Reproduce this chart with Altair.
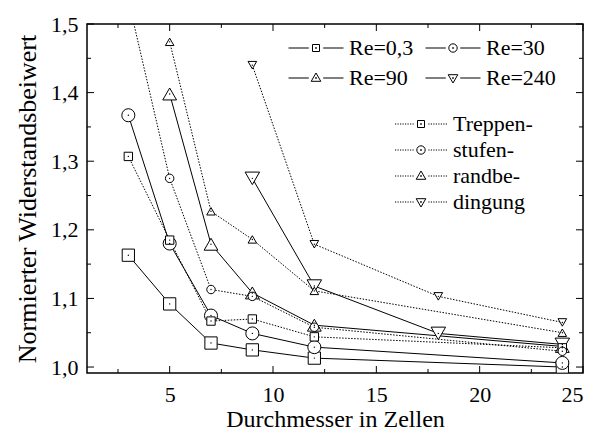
import altair as alt
import pandas as pd
import numpy as np

# ---------------- data ----------------
x_a = [3, 5, 7, 9, 12, 24]
x_b = [5, 7, 9, 12, 24]
x_c = [9, 12, 18, 24]

solid_re03 = [1.163, 1.092, 1.035, 1.025, 1.013, 1.000]
solid_re30 = [1.367, 1.180, 1.075, 1.049, 1.029, 1.006]
solid_re90 = [1.398, 1.179, 1.108, 1.061, 1.030]
solid_re240 = [1.275, 1.118, 1.049, 1.033]

dot_re03 = [1.307, 1.185, 1.067, 1.070, 1.044, 1.028]
dot_re30 = [1.535, 1.275, 1.113, 1.103, 1.058, 1.023]
dot_re90 = [1.474, 1.227, 1.186, 1.111, 1.050]
dot_re240 = [1.440, 1.179, 1.103, 1.065]

series_names = ["Re=0,3", "Re=30", "Re=90", "Re=240"]
dotted_labels = ["Treppen-", "stufen-", "randbe-", "dingung"]

x_ticks_major = [5, 10, 15, 20, 25]
x_ticks_minor = [2.5, 7.5, 12.5, 17.5, 22.5]
y_ticks_major = [1.0, 1.1, 1.2, 1.3, 1.4, 1.5]
y_ticks_minor = [1.05, 1.15, 1.25, 1.35, 1.45]

solid_sets = [(x_a, solid_re03), (x_a, solid_re30), (x_b, solid_re90), (x_c, solid_re240)]
dotted_sets = [(x_a, dot_re03), (x_a, dot_re30), (x_b, dot_re90), (x_c, dot_re240)]

rows = []
for name, lab, (xs, ys) in zip(series_names, dotted_labels, solid_sets):
    for xv, yv in zip(xs, ys):
        rows.append({"x": xv, "y": yv, "series": name, "kind": "solid", "lab": lab})
for name, lab, (xs, ys) in zip(series_names, dotted_labels, dotted_sets):
    for xv, yv in zip(xs, ys):
        rows.append({"x": xv, "y": yv, "series": name, "kind": "dotted", "lab": lab})
df = pd.DataFrame(rows)

# ---------------- layout ----------------
W, H = 496, 349
FONT = "'Liberation Serif', 'Times New Roman', serif"

xs_scale = alt.Scale(domain=[1, 25], nice=False, zero=False)
ys_scale = alt.Scale(domain=[0.9913, 1.5], nice=False, zero=False)

X = alt.X("x:Q", scale=xs_scale,
          axis=alt.Axis(values=x_ticks_major, format="d", title="Durchmesser in Zellen",
                        labelPadding=11, titlePadding=2, titleFontSize=24))
Y = alt.Y("y:Q", scale=ys_scale,
          axis=alt.Axis(values=y_ticks_major, title="Normierter Widerstandsbeiwert",
                        labelExpr="replace(format(datum.value, '.1f'), '.', ',')",
                        labelPadding=9, titlePadding=10, titleFontSize=26))

base = alt.Chart(df)

solid_lines = base.transform_filter("datum.kind == 'solid'").mark_line(
    color="black", strokeWidth=1, clip=True).encode(x=X, y=Y, detail="series:N")
dotted_lines = base.transform_filter("datum.kind == 'dotted'").mark_line(
    color="black", strokeWidth=1, strokeDash=[1.5, 1.5], clip=True).encode(x=X, y=Y, detail="series:N")

std_shapes = ["square", "circle", "triangle-up", "triangle-down"]

big_markers = base.transform_filter("datum.kind == 'solid'").mark_point(
    fill="white", stroke="black", strokeWidth=1, opacity=1, filled=False, clip=True).encode(
    x=X, y=Y,
    shape=alt.Shape("series:N", scale=alt.Scale(domain=series_names, range=std_shapes), legend=None),
    size=alt.Size("series:N", scale=alt.Scale(domain=series_names, range=[150, 210, 280, 280]), legend=None),
)
small_markers = base.transform_filter("datum.kind == 'dotted'").mark_point(
    fill="white", stroke="black", strokeWidth=1, opacity=1, filled=False, clip=True).encode(
    x=X, y=Y,
    shape=alt.Shape("series:N", scale=alt.Scale(domain=series_names, range=std_shapes), legend=None),
    size=alt.Size("series:N", scale=alt.Scale(domain=series_names, range=[70, 75, 120, 120]), legend=None),
)
center_dots = base.mark_circle(color="black", size=2, opacity=1, clip=True).encode(x=X, y=Y)

# ---------------- inward ticks ----------------
def xtick_layer(vals, y0, y1):
    return alt.Chart(pd.DataFrame({"x": vals})).mark_rule(color="black", strokeWidth=1).encode(
        x=X, y=alt.value(y0), y2=alt.value(y1))

def ytick_layer(vals, x0, x1):
    return alt.Chart(pd.DataFrame({"y": vals})).mark_rule(color="black", strokeWidth=1).encode(
        y=Y, x=alt.value(x0), x2=alt.value(x1))

MAJ, MIN = 7, 4
ticks = [
    xtick_layer(x_ticks_major, H, H - MAJ), xtick_layer(x_ticks_minor, H, H - MIN),
    xtick_layer(x_ticks_major, 0, MAJ), xtick_layer(x_ticks_minor, 0, MIN),
    ytick_layer(y_ticks_major, 0, MAJ), ytick_layer(y_ticks_minor, 0, MIN),
    ytick_layer(y_ticks_major, W, W - MAJ), ytick_layer(y_ticks_minor, W, W - MIN),
]

# ---------------- legends (custom symbol paths) ----------------
m_sq = "M-0.35,-0.35H0.35V0.35H-0.35Z"
m_ci = "M0.42,0A0.42,0.42,0,1,1,-0.42,0A0.42,0.42,0,1,1,0.42,0Z"
m_tu = "M0,-0.5L0.48,0.33L-0.48,0.33Z"
m_td = "M0,0.5L0.48,-0.33L-0.48,-0.33Z"
m_dot = "M-0.04,-0.04H0.04V0.04H-0.04Z"
markers = [m_sq, m_ci, m_tu, m_td]

solid_line_path = "M-2.75,0H-0.72M0.72,0H2.75"
dseg = []
s = -2.6
while s < -0.75:
    dseg.append(f"M{s:.2f},0H{s + 0.12:.2f}M{-s - 0.12:.2f},0H{-s:.2f}")
    s += 0.25
dotted_line_path = "".join(dseg)

solid_paths = [solid_line_path + m + m_dot for m in markers]
dotted_paths = [dotted_line_path + m + m_dot for m in markers]

leg_common = dict(orient="none", title=None, padding=0, symbolSize=400, symbolStrokeWidth=1,
                  symbolStrokeColor="black", symbolFillColor="transparent", symbolOpacity=1,
                  labelFont=FONT, labelFontSize=22, labelColor="black", labelLimit=0)

legend1 = base.transform_filter("false").mark_point(filled=False, color="black", opacity=1).encode(
    x=X, y=Y,
    shape=alt.Shape("series:N", scale=alt.Scale(domain=series_names, range=solid_paths),
                    legend=alt.Legend(columns=2, direction="horizontal", legendX=218, legendY=13,
                                      labelOffset=22, columnPadding=9, rowPadding=8, **leg_common)))
legend2 = base.transform_filter("false").mark_point(filled=False, color="black", opacity=1).encode(
    x=X, y=Y,
    shape=alt.Shape("lab:N", scale=alt.Scale(domain=dotted_labels, range=dotted_paths),
                    legend=alt.Legend(columns=1, direction="vertical", legendX=323, legendY=89,
                                      labelOffset=21, rowPadding=4, **leg_common)))

chart = alt.layer(
    *ticks, solid_lines, dotted_lines, big_markers, small_markers, center_dots, legend1, legend2
).resolve_scale(shape="independent", size="independent").properties(
    width=W, height=H,
    padding={"left": 87, "top": 24, "right": 18, "bottom": 59},
    autosize=alt.AutoSizeParams(type="none"),
    background="white",
).configure_view(stroke="black", strokeWidth=1.5).configure_axis(
    labelFont=FONT, titleFont=FONT, labelFontSize=22, labelColor="black", titleColor="black",
    titleFontWeight="normal", grid=False, domain=False, ticks=False, tickSize=0,
)

chart.save("out.html", embed_options={"renderer": "svg", "actions": False})
